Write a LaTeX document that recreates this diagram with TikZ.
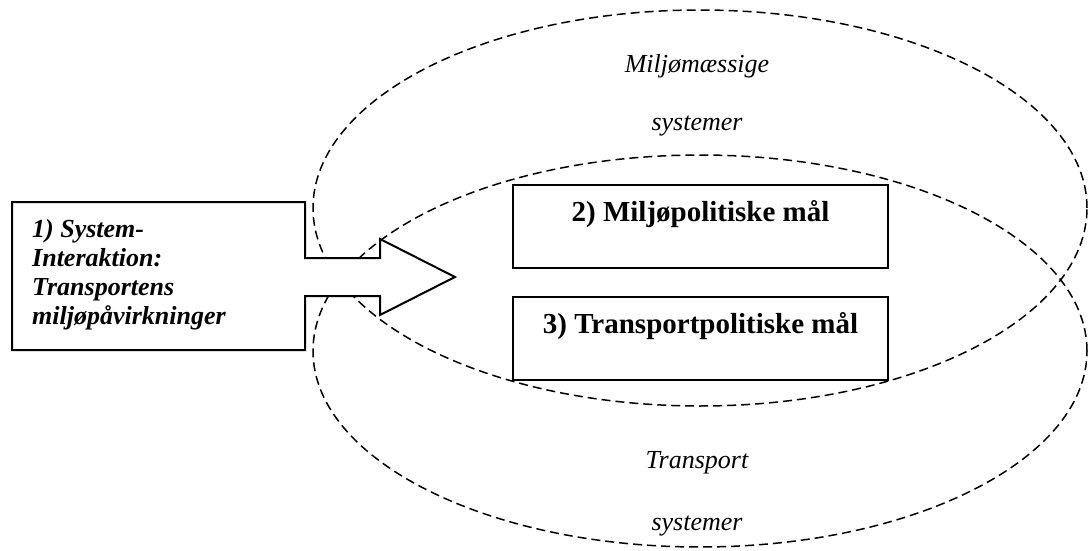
\documentclass[tikz,border=0pt]{standalone}
\usepackage{fontspec}
\setmainfont{Liberation Serif}
\begin{document}
\begin{tikzpicture}[x=1pt,y=-1pt,
  systemring/.style={draw=black,line width=1.5pt,dash pattern=on 9pt off 5pt},
  goalbox/.style={draw=black,fill=white,line width=2pt,rectangle,inner sep=0pt,
    minimum width=375pt,minimum height=83pt},
  goaltext/.style={anchor=base,font=\bfseries\fontsize{29}{32}\selectfont,inner sep=0pt},
  ringlabel/.style={anchor=base,font=\itshape\fontsize{26}{30}\selectfont,inner sep=0pt},
  flowtext/.style={anchor=base west,align=left,inner sep=0pt,
    font=\bfseries\itshape\fontsize{26}{29}\selectfont}]
\useasboundingbox[fill=white] (0,0) rectangle (1088,551);

% the two overlapping system rings
\draw[systemring] (700,208) ellipse [x radius=387pt, y radius=198pt];
\draw[systemring] (700,351) ellipse [x radius=387pt, y radius=196pt];

% ring labels
\node[ringlabel] (envA) at (697,73) {Miljømæssige};
\node[ringlabel] (envB) at (697,130) {systemer};
\node[ringlabel] (trA) at (697,468) {Transport};
\node[ringlabel] (trB) at (697,530) {systemer};

% box with arrow: system interaction
\draw[line width=2pt,fill=white,line join=miter]
  (12,202) -- (305,202) -- (305,258) -- (380,258) -- (380,239) -- (455,277)
  -- (380,315) -- (380,296) -- (305,296) -- (305,350) -- (12,350) -- cycle;
% anchor sits on the baseline of the last line
\node[flowtext] (inter) at (32,324)
  {1) System-\\Interaktion:\\Transportens\\miljøpåvirkninger};

% goal boxes
\node[goalbox] (envgoal) at (700.5,226.5) {};
\node[goalbox] (trgoal) at (700.5,338.5) {};
\node[goaltext] (envgoaltxt) at (700.5,221) {2) Miljøpolitiske mål};
\node[goaltext] (trgoaltxt) at (700.5,333) {3) Transportpolitiske mål};
\end{tikzpicture}
\end{document}
